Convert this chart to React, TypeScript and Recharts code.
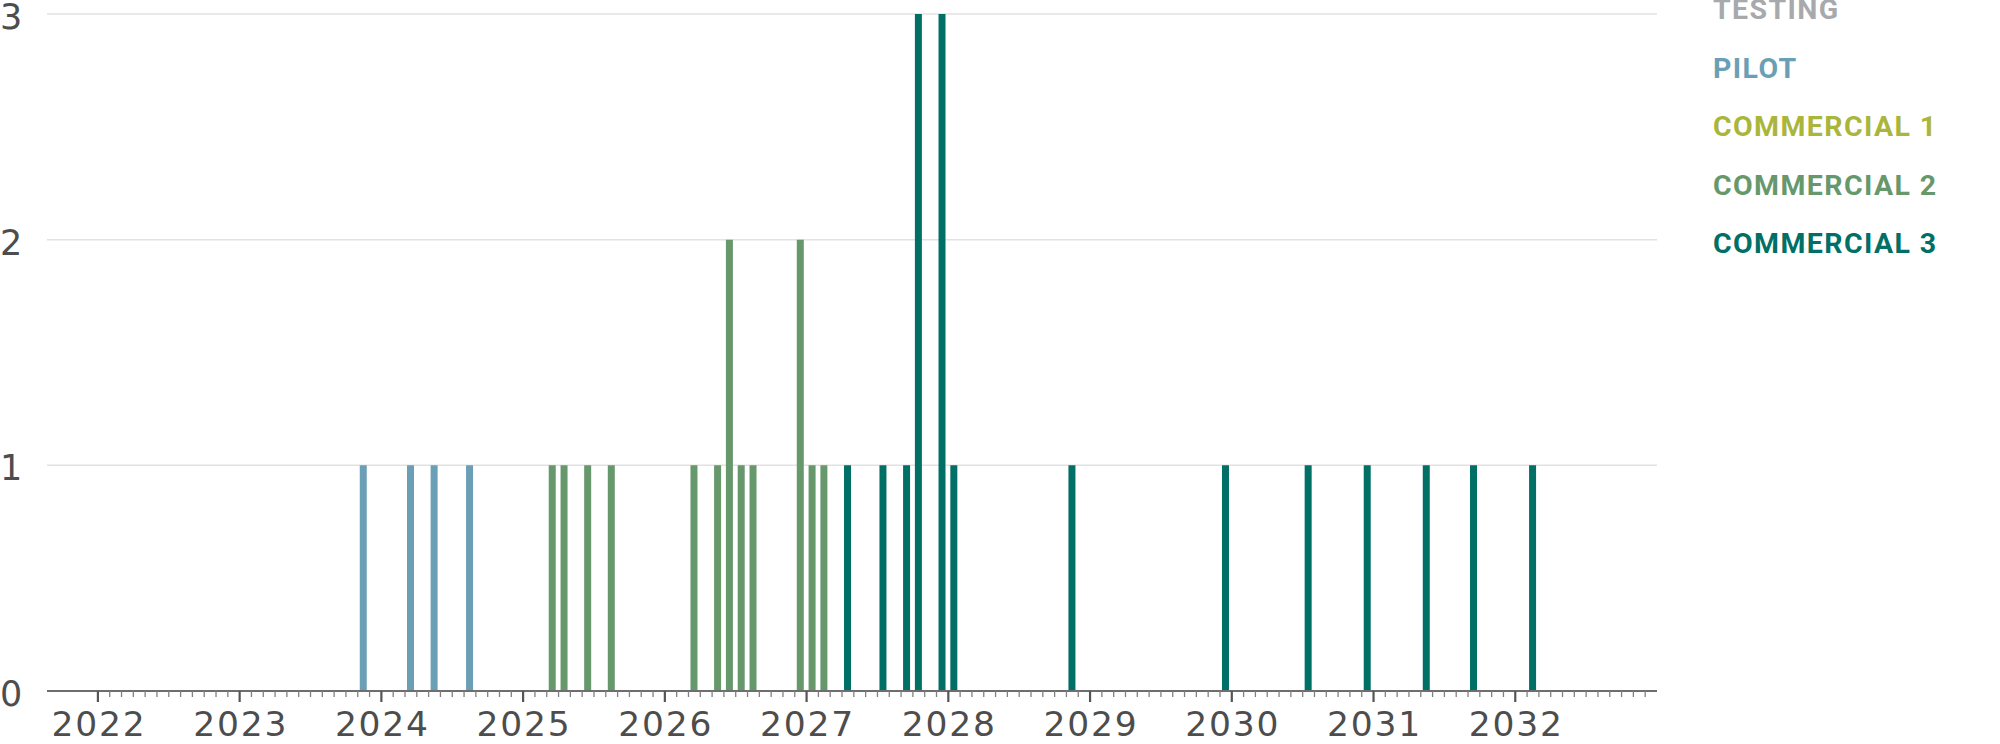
import React from 'react';
import {
  BarChart,
  Bar,
  XAxis,
  YAxis,
  CartesianGrid,
  Legend
} from 'recharts';

// month of each launch, its phase and how many
const LAUNCH_MONTHS = [
  '2023-11', '2024-03', '2024-05', '2024-08',
  '2025-03', '2025-04', '2025-06', '2025-08',
  '2026-03', '2026-05', '2026-06', '2026-07', '2026-08',
  '2026-12', '2027-01', '2027-02',
  '2027-04', '2027-07', '2027-09', '2027-10', '2027-12', '2028-01',
  '2028-11', '2029-12', '2030-07', '2030-12', '2031-05', '2031-09', '2032-02'
];
const LAUNCH_PHASES = [
  'pilot', 'pilot', 'pilot', 'pilot',
  'commercial2', 'commercial2', 'commercial2', 'commercial2',
  'commercial2', 'commercial2', 'commercial2', 'commercial2', 'commercial2',
  'commercial2', 'commercial2', 'commercial2',
  'commercial3', 'commercial3', 'commercial3', 'commercial3', 'commercial3', 'commercial3',
  'commercial3', 'commercial3', 'commercial3', 'commercial3', 'commercial3', 'commercial3', 'commercial3'
];
const LAUNCH_COUNTS = [
  1, 1, 1, 1,
  1, 1, 1, 1,
  1, 1, 2, 1, 1,
  2, 1, 1,
  1, 1, 1, 3, 3, 1,
  1, 1, 1, 1, 1, 1, 1
];

const PHASES = [
  { key: 'testing', label: 'TESTING', color: '#a7a9ac' },
  { key: 'pilot', label: 'PILOT', color: '#6a9fb5' },
  { key: 'commercial1', label: 'COMMERCIAL 1', color: '#aab53b' },
  { key: 'commercial2', label: 'COMMERCIAL 2', color: '#66986c' },
  { key: 'commercial3', label: 'COMMERCIAL 3', color: '#006f66' }
];

const FIRST_YEAR = 2022;
const YEARS = [2022, 2023, 2024, 2025, 2026, 2027, 2028, 2029, 2030, 2031, 2032];
const Y_TICKS = [0, 1, 2, 3];

const monthIndex = (ym: string) => {
  const [y, m] = ym.split('-').map(Number);
  return (y - FIRST_YEAR) * 12 + (m - 1);
};

const data = LAUNCH_MONTHS.map((ym, i) => ({
  x: monthIndex(ym) + 0.5,
  [LAUNCH_PHASES[i]]: LAUNCH_COUNTS[i]
}));

const MONTH_TICKS = Array.from({ length: YEARS.length * 12 }, (_, i) => i);

const AXIS_FONT = '"DejaVu Sans", sans-serif';
const LEGEND_FONT = 'Roboto, "Liberation Sans", sans-serif';

function MonthTick({ x, y, payload }: any) {
  const isYear = payload.value % 12 === 0;
  return (
    <g>
      <line
        x1={x}
        x2={x}
        y1={y}
        y2={y + (isYear ? 11 : 6)}
        stroke={isYear ? '#555' : '#808080'}
        strokeWidth={isYear ? 2.2 : 1.3}
      />
      {isYear && (
        <text
          x={x + 1}
          y={y + 45}
          textAnchor="middle"
          fill="#4d4d4d"
          fontSize={34.5}
          letterSpacing={1.8}
          fontFamily={AXIS_FONT}
        >
          {FIRST_YEAR + payload.value / 12}
        </text>
      )}
    </g>
  );
}

function CountTick({ y, payload }: any) {
  return (
    <text
      x={0}
      y={y + 3}
      dominantBaseline="central"
      fill="#4d4d4d"
      fontSize={35}
      fontFamily={AXIS_FONT}
    >
      {payload.value}
    </text>
  );
}

function PhaseLegend() {
  return (
    <div style={{ fontFamily: LEGEND_FONT }}>
      {PHASES.map((p) => (
        <div
          key={p.key}
          style={{
            color: p.color,
            fontWeight: 700,
            fontSize: 28.5,
            letterSpacing: 1.4,
            height: 58.5,
            lineHeight: '20px',
            whiteSpace: 'nowrap'
          }}
        >
          {p.label}
        </div>
      ))}
    </div>
  );
}

export default function App() {
  return (
    <div style={{ width: 2000, height: 744, overflow: 'hidden' }}>
      <style>{'body{margin:0}'}</style>
      <BarChart
        width={2000}
        height={744}
        data={data}
        margin={{ top: 14, right: 343, bottom: 0, left: 0 }}
      >
        <CartesianGrid vertical={false} stroke="#e2e2e2" strokeWidth={1.5} />
        <XAxis
          type="number"
          dataKey="x"
          domain={[-4.31, 132]}
          ticks={MONTH_TICKS}
          interval={0}
          allowDataOverflow
          height={53}
          tickSize={0}
          tickMargin={0}
          tickLine={false}
          axisLine={{ stroke: '#6e6e6e', strokeWidth: 2 }}
          tick={<MonthTick />}
        />
        <YAxis
          width={47}
          domain={[0, 3]}
          ticks={Y_TICKS}
          interval={0}
          axisLine={false}
          tickLine={false}
          tickSize={0}
          tick={<CountTick />}
        />
        <Legend
          layout="vertical"
          align="center"
          verticalAlign="middle"
          content={<PhaseLegend />}
          wrapperStyle={{ left: 1713, top: 0, width: 287 }}
        />
        {PHASES.map((p) => (
          <Bar
            key={p.key}
            dataKey={p.key}
            stackId="launch"
            fill={p.color}
            barSize={7}
            isAnimationActive={false}
          />
        ))}
      </BarChart>
    </div>
  );
}
